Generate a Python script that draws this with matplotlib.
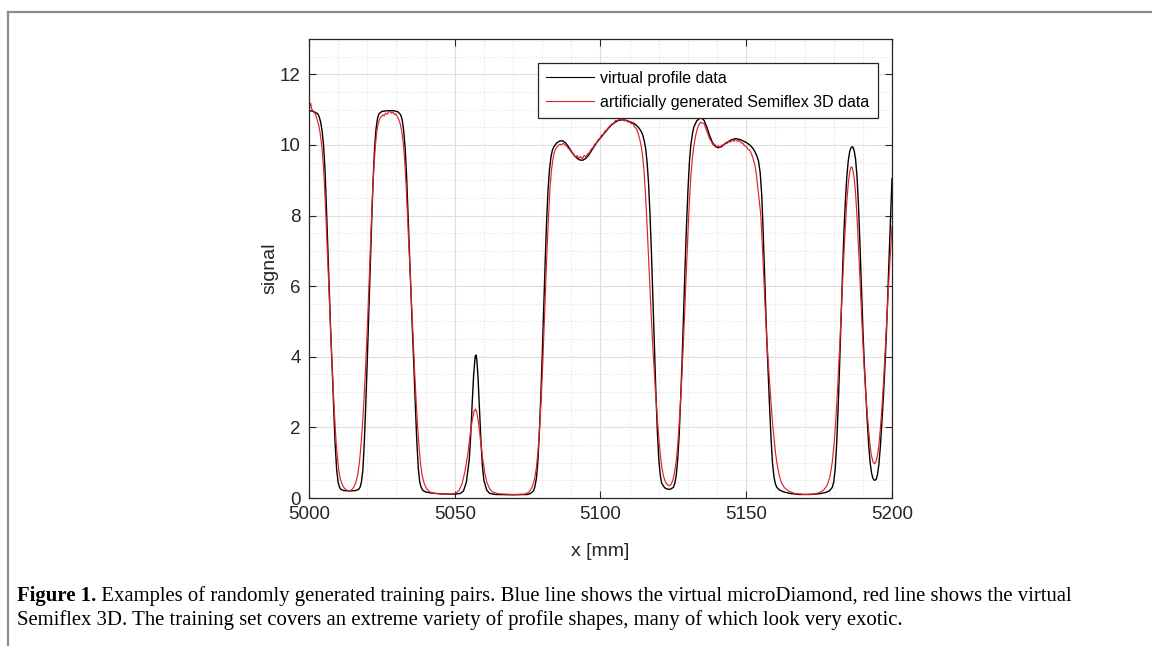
import numpy as np
import matplotlib
matplotlib.use("Agg")
import matplotlib.pyplot as plt
from matplotlib.lines import Line2D
from matplotlib.ticker import MultipleLocator

# (x, signal)
virtual_profile = [
    (5000, 10.97), (5001, 10.96), (5002, 10.93), (5003, 10.88), (5003.5, 10.8), (5004, 10.65),
    (5004.5, 10.4), (5005, 10.0), (5005.5, 9.3), (5006, 8.2), (5006.5, 7.0), (5007, 5.8),
    (5007.5, 4.6), (5008, 3.6), (5008.5, 2.5), (5009, 1.5), (5009.5, 0.8), (5010, 0.45),
    (5010.5, 0.3), (5011, 0.24), (5012, 0.21), (5014, 0.2), (5016, 0.21), (5017, 0.24),
    (5017.5, 0.3), (5018, 0.45), (5018.5, 0.8), (5019, 1.6), (5019.5, 2.7), (5020, 3.9),
    (5020.5, 5.2), (5021, 6.5), (5021.5, 7.8), (5022, 9.0), (5022.5, 9.9), (5023, 10.45),
    (5023.5, 10.75), (5024, 10.88), (5025, 10.95), (5027, 10.97), (5029, 10.97), (5030.5, 10.94),
    (5031.5, 10.85), (5032, 10.7), (5032.5, 10.4), (5033, 9.9), (5033.5, 9.1), (5034, 8.0),
    (5034.5, 6.9), (5035, 5.8), (5035.5, 4.7), (5036, 3.7), (5036.5, 2.6), (5037, 1.6),
    (5037.5, 0.85), (5038, 0.45), (5038.5, 0.3), (5039, 0.22), (5040, 0.17), (5042, 0.14),
    (5045, 0.12), (5048, 0.11), (5050, 0.11), (5052, 0.13), (5053, 0.2), (5054, 0.45),
    (5055, 1.1), (5055.5, 1.8), (5056, 2.7), (5056.5, 3.5), (5057, 4.0), (5057.3, 4.05),
    (5057.6, 3.9), (5058, 3.4), (5058.5, 2.5), (5059, 1.6), (5059.5, 0.9), (5060, 0.5),
    (5061, 0.22), (5062, 0.13), (5064, 0.1), (5070, 0.09), (5075, 0.1), (5076, 0.13),
    (5077, 0.2), (5077.5, 0.32), (5078, 0.55), (5078.5, 1.0), (5079, 1.8), (5079.5, 2.8),
    (5080, 4.0), (5080.5, 5.3), (5081, 6.6), (5081.5, 7.8), (5082, 8.7), (5082.5, 9.3),
    (5083, 9.65), (5083.5, 9.85), (5084, 9.95), (5085, 10.06), (5086, 10.11), (5087, 10.12),
    (5088, 10.06), (5089, 9.95), (5090, 9.82), (5091, 9.7), (5092, 9.62), (5093, 9.57),
    (5094, 9.57), (5095, 9.62), (5096, 9.72), (5097, 9.85), (5098, 9.98), (5099, 10.1),
    (5100, 10.2), (5101, 10.3), (5102, 10.4), (5103, 10.5), (5104, 10.58), (5105, 10.64),
    (5106, 10.69), (5107, 10.71), (5108, 10.71), (5109, 10.69), (5110, 10.66), (5111, 10.63),
    (5112, 10.58), (5113, 10.5), (5114, 10.38), (5114.5, 10.28), (5115, 10.12), (5115.5, 9.9),
    (5116, 9.5), (5116.5, 8.9), (5117, 8.0), (5117.5, 6.9), (5118, 5.6), (5118.5, 4.3),
    (5119, 3.0), (5119.5, 1.9), (5120, 1.1), (5120.5, 0.65), (5121, 0.42), (5122, 0.29),
    (5123, 0.25), (5124, 0.25), (5125, 0.3), (5125.5, 0.42), (5126, 0.65), (5126.5, 1.1),
    (5127, 1.8), (5127.5, 2.8), (5128, 3.9), (5128.5, 5.2), (5129, 6.5), (5129.5, 7.7),
    (5130, 8.7), (5130.5, 9.5), (5131, 10.0), (5131.5, 10.3), (5132, 10.5), (5133, 10.68),
    (5134, 10.75), (5134.7, 10.76), (5135.5, 10.7), (5136.5, 10.5), (5137.5, 10.25), (5138.5, 10.05),
    (5139.5, 9.95), (5140.5, 9.92), (5141.5, 9.95), (5143, 10.05), (5145, 10.15), (5146.5, 10.18),
    (5148, 10.15), (5150, 10.07), (5151.5, 9.98), (5152.5, 9.88), (5153.5, 9.72), (5154.2, 9.55),
    (5154.8, 9.2), (5155.3, 8.6), (5155.7, 7.8), (5156.1, 6.8), (5156.5, 5.8), (5157, 4.6),
    (5157.5, 3.6), (5158, 2.6), (5158.5, 1.7), (5159, 1.0), (5159.5, 0.6), (5160, 0.4),
    (5160.5, 0.3), (5161.5, 0.22), (5163, 0.17), (5165, 0.13), (5168, 0.1), (5172, 0.1),
    (5175, 0.12), (5177, 0.15), (5178.5, 0.2), (5179.5, 0.3), (5180, 0.45), (5180.5, 0.8),
    (5181, 1.5), (5181.5, 2.5), (5182, 3.7), (5182.5, 5.0), (5183, 6.3), (5183.5, 7.5),
    (5184, 8.4), (5184.5, 9.1), (5185, 9.55), (5185.5, 9.82), (5186, 9.93), (5186.5, 9.95),
    (5187, 9.85), (5187.5, 9.6), (5188, 9.1), (5188.5, 8.3), (5189, 7.2), (5189.5, 6.0),
    (5190, 4.8), (5190.5, 3.8), (5191, 3.0), (5191.5, 2.2), (5192, 1.5), (5192.5, 1.0),
    (5193, 0.7), (5193.5, 0.55), (5194, 0.5), (5194.5, 0.52), (5195, 0.65), (5195.5, 0.95),
    (5196, 1.45), (5196.5, 2.1), (5197, 2.8), (5197.5, 3.6), (5198, 4.5), (5198.5, 5.6),
    (5199, 6.8), (5199.5, 7.9), (5200, 9.05),
]

semiflex_3d = [
    (5000, 11.0), (5000.3, 11.08), (5000.6, 11.18), (5000.9, 11.02), (5001.3, 10.98), (5001.8, 10.92),
    (5002.3, 10.85), (5002.8, 10.72), (5003.3, 10.58), (5003.8, 10.35), (5004.3, 10.05), (5004.8, 9.6),
    (5005.3, 8.9), (5005.8, 8.0), (5006.3, 7.0), (5006.8, 6.0), (5007.3, 5.0), (5007.8, 4.0),
    (5008.3, 3.1), (5008.8, 2.3), (5009.3, 1.6), (5009.8, 1.1), (5010.3, 0.75), (5010.8, 0.52),
    (5011.5, 0.36), (5012.3, 0.26), (5013, 0.22), (5013.7, 0.2), (5014.5, 0.22), (5015.3, 0.3),
    (5016, 0.42), (5016.7, 0.65), (5017.3, 1.0), (5017.8, 1.45), (5018.3, 2.0), (5018.8, 2.7),
    (5019.3, 3.5), (5019.8, 4.4), (5020.3, 5.4), (5020.8, 6.5), (5021.3, 7.6), (5021.8, 8.6),
    (5022.3, 9.4), (5022.8, 10.0), (5023.3, 10.4), (5023.8, 10.62), (5024.3, 10.75), (5024.8, 10.8),
    (5025.3, 10.85), (5025.8, 10.82), (5026.3, 10.9), (5026.8, 10.87), (5027.3, 10.93), (5027.8, 10.95),
    (5028.3, 10.9), (5028.8, 10.93), (5029.3, 10.86), (5029.8, 10.88), (5030.3, 10.8), (5030.8, 10.72),
    (5031.3, 10.6), (5031.8, 10.4), (5032.3, 10.1), (5032.8, 9.6), (5033.3, 8.9), (5033.8, 8.0),
    (5034.3, 7.1), (5034.8, 6.2), (5035.3, 5.3), (5035.8, 4.4), (5036.3, 3.5), (5036.8, 2.7),
    (5037.3, 2.0), (5037.8, 1.4), (5038.3, 0.95), (5038.8, 0.65), (5039.5, 0.42), (5040.3, 0.27),
    (5041.5, 0.17), (5043, 0.13), (5046, 0.11), (5049, 0.11), (5050.5, 0.14), (5051.5, 0.22),
    (5052.5, 0.4), (5053.5, 0.75), (5054.5, 1.25), (5055.3, 1.8), (5056, 2.2), (5056.6, 2.45),
    (5057.1, 2.52), (5057.6, 2.42), (5058.2, 2.1), (5058.9, 1.6), (5059.6, 1.1), (5060.3, 0.72),
    (5061, 0.45), (5062, 0.26), (5063, 0.17), (5065, 0.12), (5070, 0.1), (5074, 0.11),
    (5075.5, 0.17), (5076.5, 0.3), (5077.3, 0.5), (5078, 0.85), (5078.6, 1.35), (5079.2, 2.1),
    (5079.7, 2.9), (5080.2, 3.8), (5080.7, 4.9), (5081.2, 6.0), (5081.7, 7.1), (5082.2, 8.0),
    (5082.7, 8.8), (5083.2, 9.3), (5083.7, 9.6), (5084.2, 9.8), (5084.8, 9.92), (5085.4, 9.97),
    (5086, 10.02), (5086.6, 10.0), (5087.2, 10.05), (5087.8, 10.0), (5088.4, 9.97), (5089, 9.9),
    (5089.6, 9.85), (5090.2, 9.78), (5090.8, 9.74), (5091.4, 9.66), (5092, 9.7), (5092.6, 9.62),
    (5093.2, 9.67), (5093.8, 9.6), (5094.4, 9.7), (5095, 9.66), (5095.6, 9.75), (5096.2, 9.78),
    (5096.8, 9.88), (5097.4, 9.92), (5098, 10.02), (5098.6, 10.05), (5099.2, 10.15), (5099.8, 10.18),
    (5100.4, 10.28), (5101, 10.3), (5101.6, 10.4), (5102.2, 10.42), (5102.8, 10.5), (5103.4, 10.55),
    (5104, 10.6), (5104.6, 10.62), (5105.2, 10.7), (5105.8, 10.68), (5106.4, 10.74), (5107, 10.7),
    (5107.6, 10.73), (5108.2, 10.68), (5108.8, 10.7), (5109.4, 10.65), (5110, 10.66), (5110.6, 10.6),
    (5111.2, 10.6), (5111.8, 10.5), (5112.4, 10.45), (5113, 10.3), (5113.5, 10.15), (5114, 9.95),
    (5114.5, 9.65), (5115, 9.2), (5115.5, 8.5), (5116, 7.7), (5116.5, 6.8), (5117, 5.9),
    (5117.5, 5.0), (5118, 4.2), (5118.5, 3.5), (5119, 2.85), (5119.5, 2.25), (5120, 1.7),
    (5120.5, 1.25), (5121, 0.9), (5121.6, 0.62), (5122.3, 0.45), (5123, 0.37), (5123.6, 0.35),
    (5124.2, 0.38), (5124.8, 0.5), (5125.4, 0.72), (5126, 1.05), (5126.5, 1.5), (5127, 2.1),
    (5127.5, 2.8), (5128, 3.6), (5128.5, 4.5), (5129, 5.5), (5129.5, 6.5), (5130, 7.5),
    (5130.5, 8.4), (5131, 9.1), (5131.5, 9.6), (5132, 9.95), (5132.6, 10.25), (5133.2, 10.45),
    (5133.8, 10.58), (5134.4, 10.64), (5135, 10.62), (5135.6, 10.6), (5136.2, 10.45), (5136.8, 10.32),
    (5137.4, 10.18), (5138, 10.1), (5138.6, 10.0), (5139.2, 10.02), (5139.8, 9.95), (5140.4, 9.98),
    (5141, 9.93), (5141.6, 10.0), (5142.2, 9.98), (5142.8, 10.06), (5143.4, 10.04), (5144, 10.1),
    (5144.6, 10.08), (5145.2, 10.15), (5145.8, 10.1), (5146.4, 10.16), (5147, 10.1), (5147.6, 10.14),
    (5148.2, 10.06), (5148.8, 10.05), (5149.4, 9.98), (5150, 9.96), (5150.6, 9.88), (5151.2, 9.85),
    (5151.8, 9.75), (5152.4, 9.6), (5153, 9.42), (5153.5, 9.15), (5154, 8.75), (5154.5, 8.4),
    (5155, 8.0), (5155.5, 7.2), (5156, 6.3), (5156.5, 5.4), (5157, 4.6), (5157.5, 3.9),
    (5158, 3.3), (5158.5, 2.7), (5159, 2.15), (5159.5, 1.7), (5160, 1.3), (5160.6, 0.95),
    (5161.3, 0.65), (5162, 0.45), (5163, 0.3), (5164.5, 0.2), (5166.5, 0.13), (5170, 0.1),
    (5173, 0.11), (5175, 0.15), (5176.5, 0.22), (5177.7, 0.35), (5178.7, 0.6), (5179.5, 1.0),
    (5180.2, 1.6), (5180.8, 2.3), (5181.4, 3.2), (5182, 4.2), (5182.5, 5.1), (5183, 6.0),
    (5183.5, 6.9), (5184, 7.7), (5184.5, 8.4), (5185, 8.9), (5185.5, 9.25), (5186, 9.38),
    (5186.4, 9.35), (5186.9, 9.15), (5187.4, 8.75), (5187.9, 8.1), (5188.4, 7.3), (5188.9, 6.4),
    (5189.4, 5.5), (5189.9, 4.6), (5190.4, 3.8), (5190.9, 3.1), (5191.4, 2.5), (5191.9, 2.0),
    (5192.4, 1.55), (5192.9, 1.22), (5193.5, 1.02), (5194, 0.97), (5194.5, 1.02), (5195, 1.2),
    (5195.5, 1.5), (5196, 1.95), (5196.5, 2.5), (5197, 3.15), (5197.5, 3.9), (5198, 4.7),
    (5198.5, 5.5), (5199, 6.3), (5199.5, 7.0), (5200, 7.7),
]

series_labels = ["virtual profile data", "artificially generated Semiflex 3D data"]
x_ticks = [5000, 5050, 5100, 5150, 5200]
y_ticks = [0, 2, 4, 6, 8, 10, 12]

caption_bold = "Figure 1."
caption_line1 = (" Examples of randomly generated training pairs. Blue line shows the virtual "
                 "microDiamond, red line shows the virtual")
caption_line2 = ("Semiflex 3D. The training set covers an extreme variety of profile shapes, "
                 "many of which look very exotic.")

plt.rcParams['font.family'] = ['Liberation Sans', 'DejaVu Sans']

fig = plt.figure(figsize=(11.52, 6.46), dpi=100)
ax = fig.add_axes([0.2682, 0.2291, 0.5061, 0.7105])

bx, by = np.array(virtual_profile).T
rx, ry = np.array(semiflex_3d).T
ax.plot(bx, by, color='black', lw=1.0, label=series_labels[0])
ax.plot(rx, ry, color='#e0202a', lw=0.85, label=series_labels[1])

ax.set_xlim(5000, 5200)
ax.set_ylim(0, 13)
ax.set_xticks(x_ticks)
ax.set_yticks(y_ticks)
ax.xaxis.set_minor_locator(MultipleLocator(10))
ax.yaxis.set_minor_locator(MultipleLocator(0.5))

ax.grid(which='major', color='#dedede', lw=0.8, ls='-')
ax.grid(which='minor', color='#e2e2e2', lw=0.8, ls=':')
ax.set_axisbelow(True)

ax.tick_params(which='major', direction='in', top=True, right=True, length=5,
               width=0.8, color='#262626', labelsize=13.5, labelcolor='#262626', pad=6)
ax.tick_params(which='minor', length=0)
for s in ax.spines.values():
    s.set_color('#262626')
    s.set_linewidth(0.9)

ax.set_xlabel('x [mm]', fontsize=14, color='#262626', labelpad=14)
ax.set_ylabel('signal', fontsize=14, color='#262626', labelpad=1)

leg = ax.legend(loc='upper right', bbox_to_anchor=(0.9753, 0.9488), borderaxespad=0,
                fontsize=11.5, frameon=True, fancybox=False, handlelength=3.0,
                handletextpad=0.4, borderpad=0.5, labelspacing=0.6)
leg.get_frame().set_edgecolor('#262626')
leg.get_frame().set_linewidth(0.9)
leg.get_frame().set_alpha(1)
for h in leg.get_lines():
    h.set_linewidth(0.8)

# page frame (gray rule at top and left)
fig.add_artist(Line2D([8 / 1152, 1], [1 - 12 / 646, 1 - 12 / 646], transform=fig.transFigure,
                      color='#8c8c8c', lw=1.6))
fig.add_artist(Line2D([8 / 1152, 8 / 1152], [0, 1 - 12 / 646], transform=fig.transFigure,
                      color='#8c8c8c', lw=1.6))

# caption
cap_size = 14.95
x0 = 17 / 1152
t1 = fig.text(x0, 1 - 596 / 646, caption_bold, fontsize=cap_size, fontweight='bold',
              family=['Liberation Serif'], va='center', ha='left')
fig.canvas.draw()
bb = t1.get_window_extent()
fig.text(bb.x1 / 1152, 1 - 596 / 646, caption_line1, fontsize=cap_size,
         family=['Liberation Serif'], va='center', ha='left')
fig.text(x0, 1 - 620 / 646, caption_line2, fontsize=cap_size,
         family=['Liberation Serif'], va='center', ha='left')

fig.savefig('out.png', dpi=100)
